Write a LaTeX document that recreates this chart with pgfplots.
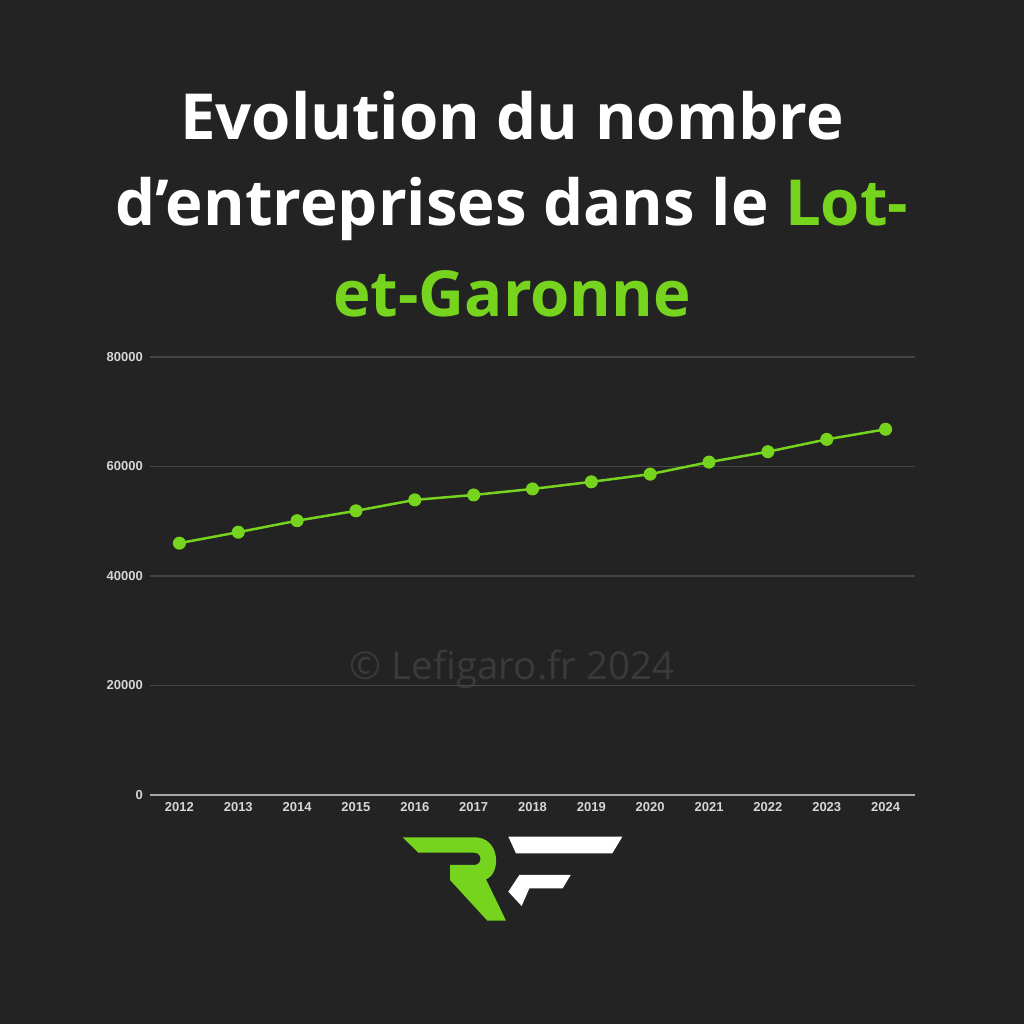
\documentclass[border=0pt]{standalone}
\usepackage{pgfplots}
\pgfplotsset{compat=1.18}
\usepackage{fontspec}
\setmainfont{Open Sans}
\newfontfamily\tickfont{Liberation Sans}
\definecolor{bg}{HTML}{232323}
\definecolor{lime}{HTML}{76D41E}
\definecolor{gridc}{HTML}{454545}
\definecolor{axisc}{HTML}{A8A8A8}
\definecolor{tickc}{HTML}{D6D6D6}
\definecolor{wm}{HTML}{3A3A3A}
\begin{document}
\begin{tikzpicture}[x=1bp,y=1bp]
\fill[bg] (0,0) rectangle (1024,1024);
\node[anchor=base, text=white, inner sep=0pt, font=\fontsize{63.5bp}{65bp}\selectfont\bfseries] at (512,884.5) {Evolution du nombre};
\node[anchor=base, text=white, inner sep=0pt, font=\fontsize{63.5bp}{65bp}\selectfont\bfseries] at (512,798.5) {d’entreprises dans le \textcolor{lime}{Lot-}};
\node[anchor=base, text=lime, inner sep=0pt, font=\fontsize{63.5bp}{65bp}\selectfont\bfseries] at (512,707.5) {et-Garonne};
\node[anchor=base, text=wm, inner sep=0pt, font=\fontsize{38.5bp}{40bp}\selectfont] at (512,344.7) {© Lefigaro.fr 2024};
\begin{axis}[
  at={(150bp,229bp)}, anchor=south west,
  scale only axis, width=765bp, height=438bp,
  xmin=2011.5, xmax=2024.5, ymin=0, ymax=80000,
  xtick={2012,2013,...,2024}, ytick={0,20000,40000,60000,80000},
  scaled y ticks=false,
  /pgf/number format/.cd, 1000 sep={}, assume math mode=true, /pgfplots/.cd,
  axis x line*=bottom, axis y line*=left,
  y axis line style={draw=none},
  x axis line style={draw=axisc, line width=2bp},
  ymajorgrids, major grid style={draw=gridc, line width=1.5bp},
  major tick length=0pt,
  ticklabel style={font=\tickfont\bfseries\fontsize{13bp}{13bp}\selectfont, text=tickc},
  yticklabel style={anchor=east, inner sep=0pt, xshift=-7bp},
  xticklabel style={anchor=north, inner sep=0pt, yshift=-7bp},
  clip=false,
]
\addplot[lime, line width=2.5bp, mark=*, mark size=6bp, mark options={fill=lime, draw=lime, line width=1bp}] coordinates {
(2012,46000) (2013,48000) (2014,50100) (2015,51900) (2016,53900) (2017,54800) (2018,55900)
(2019,57200) (2020,58600) (2021,60800) (2022,62700) (2023,64950) (2024,66800)
};
\end{axis}
\begin{scope}[shift={(380bp,204bp)}, x=0.33333bp, y=-0.33333bp]
\fill[lime] (68,52) -- (285,52) .. controls (360,52) and (365,160) .. (318,178) -- (378,302) -- (322,302) -- (210,180) -- (210,135) -- (282,135) .. controls (308,135) and (308,98) .. (282,98) -- (115,98) -- cycle;
\fill[white] (385,50) -- (727,50) -- (697,100) -- (408,100) -- cycle;
\fill[white] (418,165) -- (572,165) -- (548,205) -- (448,205) -- (425,258) -- (385,215) -- cycle;
\end{scope}
\end{tikzpicture}
\end{document}
